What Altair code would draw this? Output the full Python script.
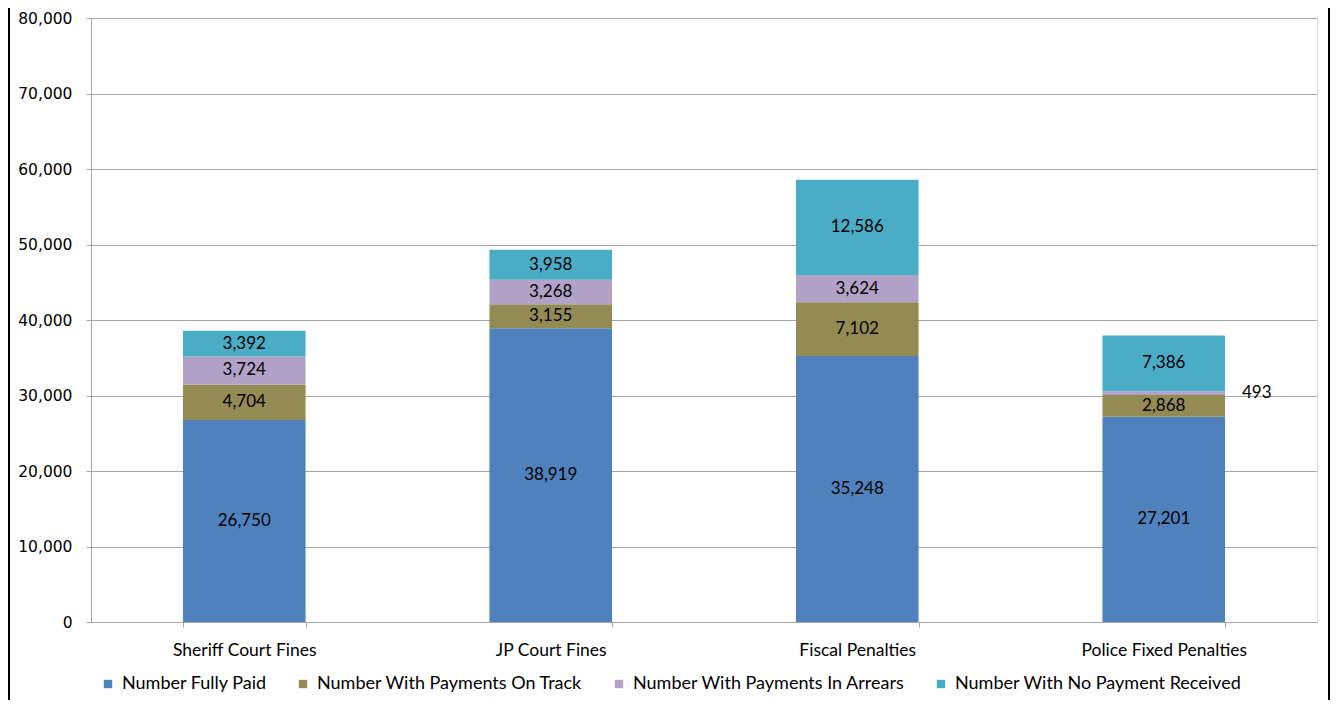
import altair as alt
import pandas as pd

categories = ["Sheriff Court Fines", "JP Court Fines", "Fiscal Penalties", "Police Fixed Penalties"]
series = ["Number Fully Paid", "Number With Payments On Track",
          "Number With Payments In Arrears", "Number With No Payment Received"]
fully_paid = [26750, 38919, 35248, 27201]
on_track = [4704, 3155, 7102, 2868]
in_arrears = [3724, 3268, 3624, 493]
no_payment = [3392, 3958, 12586, 7386]
colors = ["#4F81BD", "#948A54", "#B3A2C7", "#4BACC6"]

rows = []
for i, c in enumerate(categories):
    for j, (s, vals) in enumerate(zip(series, [fully_paid, on_track, in_arrears, no_payment])):
        rows.append({"category": c, "series": s, "value": vals[i], "order": j})
df = pd.DataFrame(rows)

FONT = "Lato"
W, H = 1226, 604

x_enc = alt.X("category:N", sort=categories, title=None,
              scale=alt.Scale(paddingInner=0.6, paddingOuter=0.3),
              axis=alt.Axis(labelAngle=0, labelFont=FONT, labelFontSize=17.5, labelColor="#000000",
                            labelPadding=14, tickBand="extent", tickSize=5, tickColor="#A6A6A6",
                            domainColor="#A6A6A6", grid=False, labelLimit=400))

bars = alt.Chart(df).mark_bar().encode(
    x=x_enc,
    y=alt.Y("sum(value):Q", stack="zero", title=None,
            scale=alt.Scale(domain=[0, 80000], nice=False),
            axis=alt.Axis(values=list(range(0, 80001, 10000)), format=",.0f",
                          labelFont="DejaVu Sans", labelFontSize=15.5, labelColor="#000000",
                          labelPadding=14, tickSize=5, tickColor="#A6A6A6",
                          domainColor="#A6A6A6", gridColor="#A6A6A6", gridWidth=1)),
    color=alt.Color("series:N", sort=series,
                    scale=alt.Scale(domain=series, range=colors),
                    legend=alt.Legend(orient="none", direction="horizontal", title=None,
                                      legendX=8, legendY=657, symbolType="square",
                                      symbolSize=70, symbolStrokeWidth=0, labelLimit=500,
                                      labelFont=FONT, labelFontSize=18, labelColor="#000000",
                                      columnPadding=27, labelOffset=5)),
    order=alt.Order("order:Q"),
)

base_text = alt.Chart(df).transform_stack(
    stack="value", groupby=["category"], as_=["y0", "y1"],
    sort=[alt.SortField("order", order="ascending")]
).transform_calculate(mid="(datum.y0 + datum.y1) / 2")

labels_in = base_text.transform_filter("datum.value >= 1000").mark_text(
    font=FONT, fontSize=17, color="#000000", baseline="middle"
).encode(
    x=alt.X("category:N", sort=categories),
    y=alt.Y("mid:Q"),
    text=alt.Text("value:Q", format=","),
)

labels_out = base_text.transform_filter("datum.value < 1000").mark_text(
    font=FONT, fontSize=17, color="#000000", baseline="middle", dx=93
).encode(
    x=alt.X("category:N", sort=categories),
    y=alt.Y("mid:Q"),
    text=alt.Text("value:Q", format=","),
)

frame_left = alt.Chart(df).mark_rule(color="#000000", strokeWidth=2).encode(
    x=alt.value(-82), y=alt.value(-12), y2=alt.value(690))
frame_right = alt.Chart(df).mark_rule(color="#000000", strokeWidth=2).encode(
    x=alt.value(1238), y=alt.value(-12), y2=alt.value(690))

chart = alt.layer(bars, labels_in, labels_out, frame_left, frame_right).properties(
    width=W, height=H,
    autosize=alt.AutoSizeParams(type="none"),
    padding={"left": 83, "top": 10, "right": 13, "bottom": 78},
).configure_view(stroke=None).configure(background="#FFFFFF")

chart.save("out.html", embed_options={"renderer": "svg", "actions": False})
